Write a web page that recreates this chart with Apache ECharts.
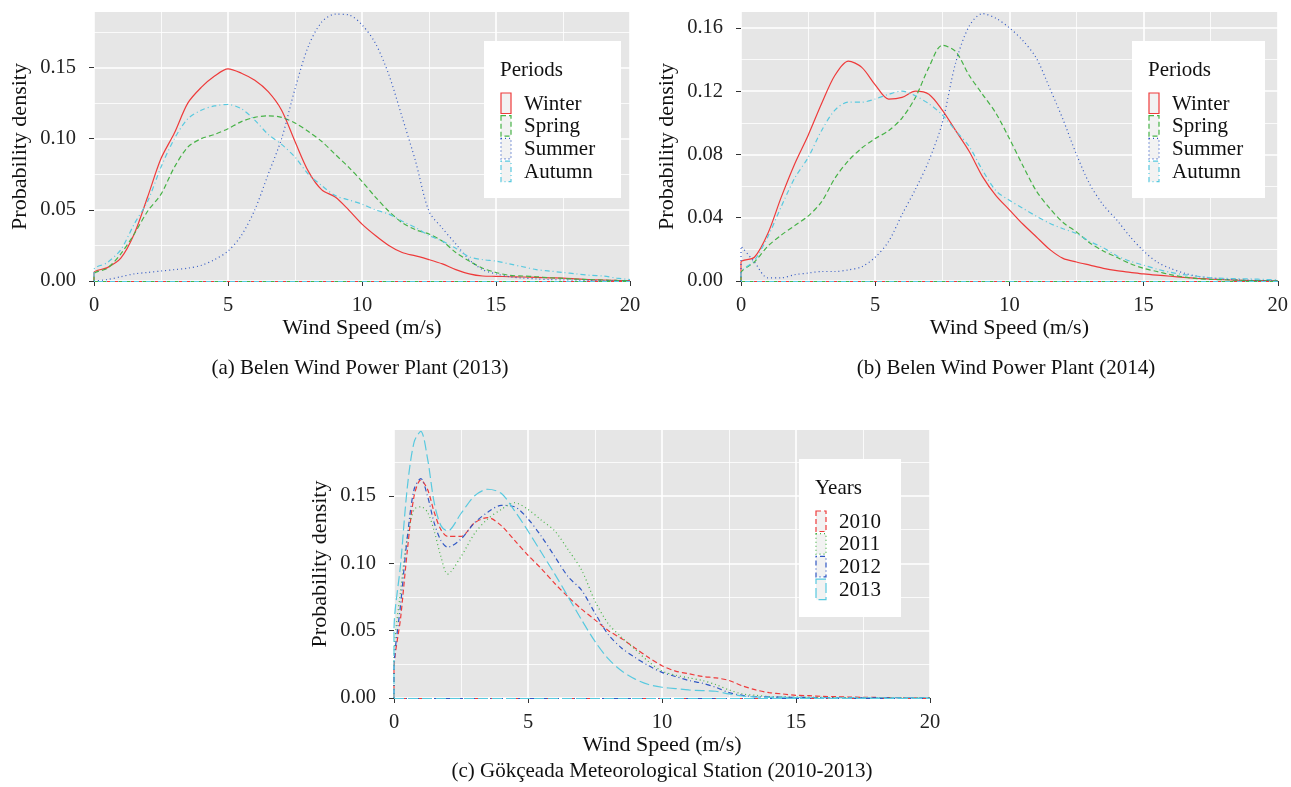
<!DOCTYPE html>
<html>
<head>
<meta charset="utf-8">
<script src="https://cdn.jsdelivr.net/npm/echarts@6/dist/echarts.min.js"></script>
<style>
html, body { margin: 0; padding: 0; background: #fff; }
#main { width: 1291px; height: 787px; }
</style>
</head>
<body>
<div id="main"></div>
<script>
// wind speed grid (m/s)
var speedAB = [0,0.5,1,1.5,2,2.5,3,3.5,4,4.5,5,5.5,6,6.5,7,7.5,8,8.5,9,9.5,10,10.5,11,11.5,12,12.5,13,13.5,14,14.5,15,15.5,16,16.5,17,17.5,18,18.5,19,19.5,20];
var speedC = [0,0.25,0.5,0.75,1,1.25,1.5,1.75,2,2.5,3,3.5,4,4.5,5,5.5,6,6.5,7,7.5,8,8.5,9,9.5,10,10.5,11,11.5,12,12.5,13,13.5,14,14.5,15,15.5,16,16.5,17,17.5,18,18.5,19,19.5,20];

var xTicks = [0, 5, 10, 15, 20];
var yTicksA = [0, 0.05, 0.10, 0.15];
var yTicksB = [0, 0.04, 0.08, 0.12, 0.16];
var yTicksC = [0, 0.05, 0.10, 0.15];

var periods = ['Winter', 'Spring', 'Summer', 'Autumn'];
var years = ['2010', '2011', '2012', '2013'];

// (a) Belen 2013
var winter13 = [0.006,0.0094,0.016,0.033,0.059,0.086,0.104,0.125,0.136,0.144,0.149,0.146,0.141,0.133,0.12,0.098,0.077,0.064,0.059,0.05,0.04,0.032,0.025,0.02,0.0176,0.015,0.012,0.008,0.005,0.0035,0.0033,0.003,0.0028,0.0025,0.0022,0.002,0.0015,0.001,0.0007,0.0004,0.0002];
var spring13 = [0.005,0.009,0.019,0.033,0.049,0.061,0.08,0.094,0.1,0.103,0.107,0.112,0.115,0.116,0.115,0.111,0.105,0.098,0.089,0.08,0.07,0.059,0.049,0.041,0.036,0.033,0.028,0.02,0.014,0.009,0.006,0.004,0.0035,0.003,0.0023,0.0018,0.0013,0.001,0.0007,0.0004,0.0002];
var summer13 = [0,0.001,0.003,0.005,0.006,0.007,0.008,0.009,0.011,0.015,0.021,0.032,0.05,0.075,0.1,0.135,0.165,0.182,0.1875,0.187,0.18,0.167,0.145,0.115,0.084,0.049,0.037,0.026,0.015,0.008,0.005,0.003,0.002,0.0015,0.001,0.0008,0.0006,0.0004,0.0003,0.0002,0.0001];
var autumn13 = [0.008,0.013,0.022,0.04,0.056,0.08,0.1,0.114,0.12,0.123,0.124,0.121,0.113,0.103,0.096,0.087,0.075,0.067,0.06,0.057,0.054,0.05,0.047,0.042,0.0375,0.032,0.028,0.023,0.017,0.015,0.014,0.012,0.01,0.008,0.007,0.006,0.005,0.004,0.0035,0.002,0.001];

// (b) Belen 2014
var winter14 = [0.012,0.015,0.03,0.053,0.074,0.092,0.112,0.13,0.139,0.135,0.124,0.115,0.116,0.12,0.118,0.108,0.095,0.082,0.066,0.054,0.045,0.036,0.028,0.02,0.0143,0.012,0.01,0.008,0.0065,0.0055,0.0045,0.0037,0.003,0.0023,0.0017,0.0012,0.0008,0.0005,0.0003,0.0002,0.0001];
var spring14 = [0.005,0.012,0.022,0.029,0.035,0.041,0.05,0.065,0.076,0.084,0.09,0.095,0.103,0.116,0.135,0.149,0.145,0.13,0.118,0.106,0.09,0.073,0.057,0.046,0.037,0.031,0.024,0.019,0.015,0.011,0.008,0.006,0.004,0.0025,0.0015,0.001,0.0008,0.0005,0.0003,0.0002,0.0001];
var summer14 = [0.022,0.012,0.002,0.002,0.004,0.005,0.006,0.006,0.007,0.009,0.015,0.025,0.042,0.058,0.076,0.1,0.138,0.161,0.169,0.166,0.16,0.152,0.141,0.122,0.102,0.08,0.061,0.048,0.0386,0.028,0.019,0.012,0.008,0.005,0.003,0.002,0.0012,0.0008,0.0005,0.0003,0.0002];
var autumn14 = [0.005,0.013,0.028,0.047,0.065,0.078,0.095,0.108,0.113,0.113,0.115,0.118,0.12,0.117,0.112,0.105,0.095,0.085,0.07,0.057,0.051,0.046,0.041,0.0365,0.033,0.03,0.025,0.021,0.016,0.0125,0.01,0.0075,0.0055,0.004,0.003,0.002,0.0017,0.0015,0.0013,0.001,0.0008];

// (c) Gokceada 2010-2013
var y2010 = [0.02,0.06,0.11,0.15,0.162,0.155,0.138,0.125,0.12,0.12,0.13,0.134,0.128,0.117,0.106,0.096,0.085,0.075,0.066,0.058,0.05,0.044,0.037,0.03,0.024,0.02,0.018,0.016,0.015,0.013,0.009,0.006,0.004,0.003,0.002,0.0017,0.0012,0.001,0.0007,0.0005,0.0004,0.0003,0.0002,0.0001,0.0001];
var y2011 = [0.03,0.08,0.12,0.14,0.142,0.138,0.124,0.105,0.092,0.105,0.122,0.133,0.14,0.145,0.14,0.132,0.124,0.11,0.095,0.072,0.055,0.045,0.036,0.027,0.02,0.017,0.015,0.013,0.01,0.006,0.003,0.002,0.001,0.0008,0.0006,0.0005,0.0004,0.0003,0.0002,0.0001,0.0001,0.0001,0.0001,0.0001,0.0001];
var y2012 = [0.02,0.07,0.12,0.155,0.163,0.15,0.13,0.117,0.112,0.118,0.13,0.138,0.143,0.142,0.133,0.12,0.105,0.09,0.08,0.063,0.047,0.037,0.03,0.024,0.019,0.016,0.013,0.011,0.008,0.004,0.002,0.001,0.0008,0.0006,0.0005,0.0004,0.0003,0.0002,0.0002,0.0001,0.0001,0.0001,0.0001,0.0001,0.0001];
var y2013 = [0.05,0.1,0.157,0.19,0.198,0.178,0.145,0.128,0.124,0.137,0.15,0.155,0.152,0.139,0.124,0.108,0.092,0.075,0.058,0.042,0.029,0.02,0.014,0.01,0.008,0.007,0.006,0.0055,0.005,0.003,0.0015,0.0008,0.0005,0.0004,0.0003,0.0002,0.0002,0.0001,0.0001,0.0001,0.0001,0.0001,0.0001,0.0001,0.0001];

var font = 'Liberation Serif';
var red = '#ee3b3b', green = '#46b246', blue = '#3158c4', cyan = '#58c9df';
var dashes = {
	solid: 'solid',
	dashed: [5, 3],
	dotted: [1, 3],
	dotdash: [1, 3, 5, 3],
	longdash: [10, 4]
};

function pairs(xs, ys) {
	var out = [[0, 0]];
	for (var i = 0; i < xs.length; i++) {
		out.push([xs[i], ys[i]]);
	}
	return out;
}

function densitySeries(name, gi, xs, ys, color, dash) {
	return {
		name : name,
		type : 'line',
		xAxisIndex : gi,
		yAxisIndex : gi,
		data : pairs(xs, ys),
		smooth : 0.3,
		symbol : 'none',
		lineStyle : { color : color, width : 1.2, type : dash },
		markLine : {
			silent : true,
			symbol : 'none',
			label : { show : false },
			lineStyle : { color : color, width : 1.2, type : dash },
			data : [ { yAxis : 0 } ]
		}
	};
}

function xAxisFor(gi) {
	return {
		type : 'value',
		gridIndex : gi,
		min : 0,
		max : 20,
		interval : 5,
		name : 'Wind Speed (m/s)',
		nameLocation : 'middle',
		nameGap : 34,
		nameTextStyle : { fontFamily : font, fontSize : 22, color : '#111' },
		axisLine : { show : false },
		axisTick : { show : true, length : 5, lineStyle : { color : '#333' }, customValues : xTicks },
		axisLabel : { fontFamily : font, fontSize : 20.5, color : '#222', margin : 14, customValues : xTicks },
		splitLine : { lineStyle : { color : '#fff', width : 1.6 } },
		minorTick : { show : false, splitNumber : 2 },
		minorSplitLine : { show : true, lineStyle : { color : '#fff', width : 0.8 } }
	};
}

function yAxisFor(gi, max, interval, ticks) {
	return {
		type : 'value',
		gridIndex : gi,
		min : 0,
		max : max,
		interval : interval,
		name : 'Probability density',
		nameLocation : 'middle',
		nameGap : 63,
		nameTextStyle : { fontFamily : font, fontSize : 22, color : '#111' },
		axisLine : { show : false },
		axisTick : { show : true, length : 5, lineStyle : { color : '#333' }, customValues : ticks },
		axisLabel : {
			fontFamily : font, fontSize : 20.5, color : '#222', margin : 18,
			customValues : ticks,
			formatter : function(v) { return v.toFixed(2); }
		},
		splitLine : { lineStyle : { color : '#fff', width : 1.6 } },
		minorTick : { show : false, splitNumber : 2 },
		minorSplitLine : { show : true, lineStyle : { color : '#fff', width : 0.8 } }
	};
}

// hand-made legend box in ggplot style
function legendBox(left, top, width, height, title, names, colors, types) {
	var els = [];
	els.push({ type : 'rect', shape : { x : left, y : top, width : width, height : height }, style : { fill : '#fff' }, z : 10 });
	els.push({ type : 'text', x : left + 16, y : top + 29, style : { text : title, font : '21px ' + font, fill : '#111', verticalAlign : 'middle' }, z : 11 });
	for (var i = 0; i < names.length; i++) {
		var ky = top + 52 + i * 22.7;
		els.push({
			type : 'rect',
			shape : { x : left + 17, y : ky, width : 10, height : 20.5 },
			style : { fill : '#f2f2f2', stroke : colors[i], lineWidth : 1.2, lineDash : types[i] === 'solid' ? null : types[i] },
			z : 11
		});
		els.push({ type : 'text', x : left + 40, y : ky + 11, style : { text : names[i], font : '21px ' + font, fill : '#111', verticalAlign : 'middle' }, z : 11 });
	}
	return els;
}

function caption(x, y, text) {
	return { type : 'text', x : x, y : y, style : { text : text, font : '21px ' + font, fill : '#111', align : 'center', verticalAlign : 'middle' } };
}

var periodColors = [red, green, blue, cyan];
var periodTypes = [dashes.solid, dashes.dashed, dashes.dotted, dashes.dotdash];
var yearColors = [red, green, blue, cyan];
var yearTypes = [dashes.dashed, dashes.dotted, dashes.dotdash, dashes.longdash];

var seriesA = [winter13, spring13, summer13, autumn13];
var seriesB = [winter14, spring14, summer14, autumn14];
var seriesC = [y2010, y2011, y2012, y2013];

var series = [];
for (var i = 0; i < 4; i++) {
	series.push(densitySeries(periods[i], 0, speedAB, seriesA[i], periodColors[i], periodTypes[i]));
	series.push(densitySeries(periods[i], 1, speedAB, seriesB[i], periodColors[i], periodTypes[i]));
	series.push(densitySeries(years[i], 2, speedC, seriesC[i], yearColors[i], yearTypes[i]));
}

var graphics = []
	.concat(legendBox(484, 41, 137, 157, 'Periods', periods, periodColors, periodTypes))
	.concat(legendBox(1132, 41, 133, 157, 'Periods', periods, periodColors, periodTypes))
	.concat(legendBox(799, 459, 102, 158, 'Years', years, yearColors, yearTypes));
graphics.push(caption(360, 368, '(a) Belen Wind Power Plant (2013)'));
graphics.push(caption(1006, 368, '(b) Belen Wind Power Plant (2014)'));
graphics.push(caption(662, 771, '(c) Gökçeada Meteorological Station (2010-2013)'));

var option = {
	animation : false,
	backgroundColor : '#fff',
	grid : [
		{ left : 94, top : 12, width : 536, height : 269, show : true, backgroundColor : '#e6e6e6', borderWidth : 0 },
		{ left : 741, top : 12, width : 537, height : 269, show : true, backgroundColor : '#e6e6e6', borderWidth : 0 },
		{ left : 394, top : 430, width : 536, height : 268, show : true, backgroundColor : '#e6e6e6', borderWidth : 0 }
	],
	xAxis : [ xAxisFor(0), xAxisFor(1), xAxisFor(2) ],
	yAxis : [
		yAxisFor(0, 0.189, 0.05, yTicksA),
		yAxisFor(1, 0.170, 0.04, yTicksB),
		yAxisFor(2, 0.199, 0.05, yTicksC)
	],
	series : series,
	graphic : graphics
};

var myChart = echarts.init(document.getElementById('main'));
myChart.setOption(option, true);
</script>
</body>
</html>
